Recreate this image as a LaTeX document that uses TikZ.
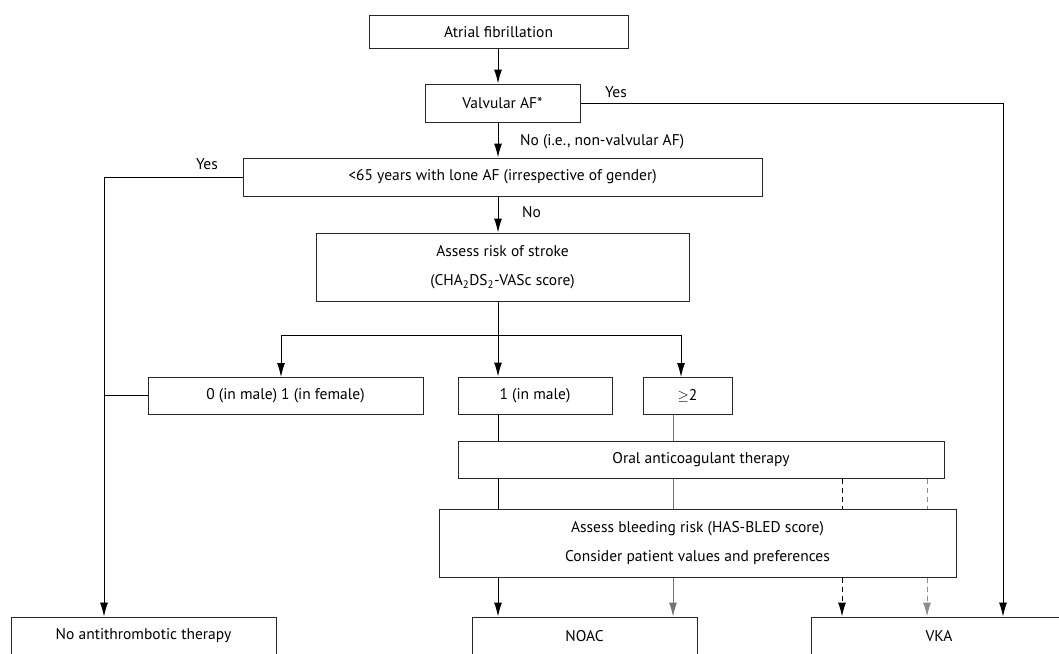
\documentclass[tikz,border=0pt]{standalone}
\usepackage{fontspec}
\setmainfont{PT Sans}
\usetikzlibrary{positioning,arrows.meta}
\tikzset{box/.style={draw=black!85,line width=1pt,inner sep=0pt,align=center,font=\fontsize{15.5}{29}\selectfont}}
\tikzset{arr/.style={-{Latex[length=14pt,width=8pt]},line width=1pt}}
\tikzset{link/.style={line width=1pt}}
\tikzset{graylink/.style={line width=1pt,draw=black!55,fill=black!55}}
\tikzset{dashlink/.style={line width=1pt,dash pattern=on 5pt off 4pt}}
\tikzset{lbl/.style={inner sep=0pt,font=\fontsize{15.5}{18}\selectfont}}

\begin{document}
\begin{tikzpicture}[x=1pt,y=-1pt]
  \useasboundingbox (0,0) rectangle (1059,653);
  \clip (0,0) rectangle (1059,653);
  % boxes
  \node[box,minimum width=259pt,minimum height=33pt] (af) at (498.5,32) {Atrial fibrillation};
  \node[box,minimum width=155pt,minimum height=38pt] (valv) at (502.5,103) {Valvular AF*};
  \node[box,minimum width=519pt,minimum height=38pt] (lone) at (502.5,177) {<65 years with lone AF (irrespective of gender)};
  \node[box,minimum width=373pt,minimum height=68pt] (stroke) at (502.5,267) {Assess risk of stroke\\(CHA\textsubscript{2}DS\textsubscript{2}-VASc score)};
  \node[box,minimum width=275pt,minimum height=37pt] (s0) at (285.5,395.5) {0 (in male) 1 (in female)};
  \node[box,minimum width=154pt,minimum height=37pt] (s1) at (535,395.5) {1 (in male)};
  \node[box,minimum width=89pt,minimum height=37pt] (s2) at (687.5,395.5) {$\geq$2};
  \node[box,minimum width=486pt,minimum height=37pt] (oac) at (701,459.5) {Oral anticoagulant therapy};
  \node[box,minimum width=517pt,minimum height=68pt] (bleed) at (697.5,543) {Assess bleeding risk (HAS-BLED score)\\Consider patient values and preferences};
  \node[box,minimum width=265pt,minimum height=38pt] (noat) at (143.5,636) {No antithrombotic therapy};
  \node[box,minimum width=225pt,minimum height=38pt] (noac) at (584.5,636) {NOAC};
  \node[box,minimum width=256pt,minimum height=38pt] (vka) at (939,636) {VKA};
  % labels
  \node[lbl] (yes1) at (616,92) {Yes};
  \node[lbl,anchor=west] (no1) at (520,142) {No (i.e., non-valvular AF)};
  \node[lbl] (yes2) at (207,164) {Yes};
  \node[lbl,anchor=west] (no2) at (522,212) {No};
  % columns
  \coordinate (lx) at (104,0);
  \coordinate (cx) at (498,0);
  \coordinate (gx) at (673,0);
  \coordinate (dx) at (842,0);
  \coordinate (ex) at (927,0);
  \coordinate (rx) at (1003,0);
  \coordinate (br) at (498,335);
  % main path
  \draw[arr] (cx |- af.south) -- (cx |- valv.north);
  \draw[arr] (cx |- valv.south) -- (cx |- lone.north);
  \draw[arr] (cx |- lone.south) -- (cx |- stroke.north);
  \draw[arr] (cx |- stroke.south) -- (cx |- s1.north);
  \draw[arr] (br) -| (281,377);
  \draw[arr] (br) -| (681,377);
  % yes branches
  \draw[arr,line width=0.8pt] (valv.east) -| (rx |- vka.north);
  \draw[arr,line width=0.8pt] (lone.west) -| (lx |- noat.north);
  \draw[link] (s0.west) -- (lx |- s0.west);
  % to oral anticoagulant therapy
  \draw[link] (cx |- s1.south) -- (cx |- oac.north);
  \draw[graylink] (gx |- s2.south) -- (gx |- oac.north);
  \draw[link] (cx |- oac.south) -- (cx |- bleed.north);
  \draw[graylink] (gx |- oac.south) -- (gx |- bleed.north);
  \draw[dashlink] (dx |- oac.south) -- (dx |- bleed.north);
  \draw[dashlink,draw=black!45] (ex |- oac.south) -- (ex |- bleed.north);
  % outcomes
  \draw[arr] (cx |- bleed.south) -- (cx |- noac.north);
  \draw[arr,graylink] (gx |- bleed.south) -- (gx |- noac.north);
  \draw[arr,dashlink] (dx |- bleed.south) -- (dx |- vka.north);
  \draw[arr,dashlink,draw=black!45,fill=black!45] (ex |- bleed.south) -- (ex |- vka.north);
\end{tikzpicture}
\end{document}
